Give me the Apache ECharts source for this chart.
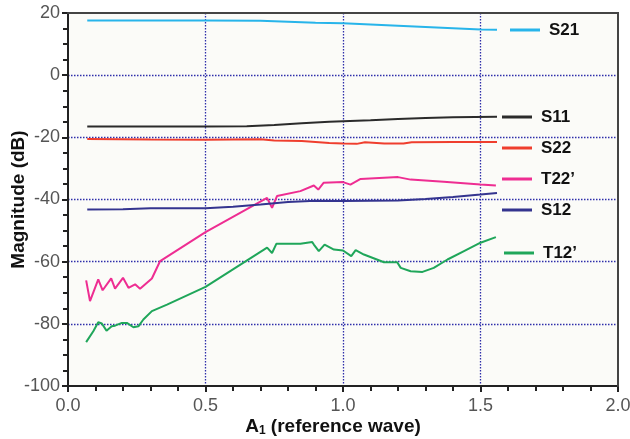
<!DOCTYPE html>
<html>
<head>
<meta charset="utf-8">
<script src="https://cdn.jsdelivr.net/npm/echarts@6/dist/echarts.min.js"></script>
<style>
  html, body { margin: 0; padding: 0; background: #ffffff; }
  #chart { width: 630px; height: 439px; }
</style>
</head>
<body>
<div id="chart"></div>
<script>
// Measured magnitudes (dB) against reference-wave amplitude A1, as [A1, dB] pairs
const s21 = [[0.07,17.6],[0.3,17.6],[0.5,17.6],[0.7,17.5],[0.8,17.2],[0.9,16.9],[1.0,16.7],[1.1,16.3],[1.2,15.9],[1.3,15.5],[1.4,15.1],[1.5,14.7],[1.56,14.6]];
const s11 = [[0.07,-16.5],[0.3,-16.5],[0.5,-16.5],[0.65,-16.4],[0.75,-16.0],[0.85,-15.5],[0.95,-15.0],[1.0,-14.8],[1.1,-14.5],[1.2,-14.1],[1.3,-13.8],[1.4,-13.5],[1.56,-13.4]];
const s22 = [[0.07,-20.5],[0.3,-20.7],[0.5,-20.8],[0.7,-20.6],[0.75,-21.0],[0.85,-21.2],[0.95,-21.8],[1.0,-22.0],[1.05,-22.1],[1.08,-21.6],[1.15,-22.0],[1.22,-22.0],[1.25,-21.6],[1.4,-21.5],[1.56,-21.5]];
const t22 = [[0.066,-66.0],[0.08,-72.7],[0.11,-65.7],[0.126,-69.2],[0.157,-65.4],[0.171,-68.7],[0.2,-65.2],[0.22,-68.4],[0.244,-67.3],[0.262,-68.7],[0.305,-65.4],[0.335,-59.8],[0.5,-50.5],[0.724,-39.5],[0.73,-38.9],[0.742,-42.7],[0.76,-38.9],[0.845,-37.3],[0.894,-35.5],[0.91,-36.8],[0.93,-34.6],[1.0,-34.4],[1.027,-35.2],[1.064,-33.4],[1.2,-32.8],[1.246,-33.6],[1.366,-34.3],[1.5,-35.2],[1.556,-35.5]];
const s12 = [[0.07,-43.2],[0.2,-43.1],[0.3,-42.8],[0.5,-42.8],[0.6,-42.3],[0.7,-41.6],[0.8,-40.8],[0.9,-40.4],[1.0,-40.5],[1.1,-40.4],[1.2,-40.3],[1.3,-39.8],[1.4,-39.2],[1.5,-38.4],[1.56,-37.9]];
const t12 = [[0.066,-85.9],[0.092,-82.4],[0.11,-79.5],[0.123,-79.9],[0.14,-82.2],[0.159,-80.8],[0.171,-80.6],[0.196,-79.7],[0.214,-79.7],[0.238,-81.1],[0.256,-80.8],[0.274,-78.6],[0.305,-75.9],[0.36,-73.8],[0.5,-68.1],[0.724,-55.5],[0.742,-57.2],[0.758,-54.2],[0.845,-54.2],[0.888,-53.7],[0.894,-54.5],[0.912,-56.6],[0.933,-54.5],[0.967,-56.1],[1.0,-56.4],[1.03,-58.2],[1.046,-56.3],[1.076,-57.7],[1.149,-60.2],[1.197,-60.2],[1.21,-62.0],[1.246,-63.1],[1.289,-63.3],[1.33,-62.0],[1.38,-59.3],[1.44,-56.6],[1.5,-53.9],[1.556,-52.1]];

const seriesNames = ['S21', 'S11', 'S22', 'T22\u2019', 'S12', 'T12\u2019'];
const seriesData = [s21, s11, s22, t22, s12, t12];
const seriesColors = ['#27b4ea', '#2b2b2b', '#ef3e2e', '#ee2d92', '#34348f', '#1fa65a'];

// Key entries sit beside the line ends: [left, vertical centre]
const keySpots = [[510, 30], [502, 117], [502, 148], [502, 179], [502, 210], [504, 253]];

const xTicks = { min: 0, max: 2, interval: 0.5 };
const yTicks = { min: -100, max: 20, interval: 20 };

const chart = echarts.init(document.getElementById('chart'), null, { renderer: 'canvas' });

const FONT = 'Liberation Sans, Arial, sans-serif';
const tickFont = { color: '#555555', fontSize: 18, fontFamily: FONT };
// Dotted grid inside the frame only; the frame edges stay solid
const gridLine = {
  show: true, showMinLine: false, showMaxLine: false,
  lineStyle: { color: '#2e2eaa', width: 1.3, type: [1.5, 1.5] }
};

// Bare axis that only draws a solid frame edge (top or right)
const frameEdge = (extra) => Object.assign({
  type: 'value',
  gridIndex: 0,
  show: true,
  z: 10,
  axisLine: { show: true, onZero: false, lineStyle: { color: '#444444', width: 2 } },
  axisTick: { show: false },
  minorTick: { show: false },
  axisLabel: { show: false },
  splitLine: { show: false }
}, extra);

chart.setOption({
  animation: false,
  backgroundColor: '#ffffff',
  grid: {
    left: 68, right: 12, top: 13, bottom: 53,
    containLabel: false,
    outerBoundsMode: 'none',
    show: true, backgroundColor: '#fbfbf8', borderColor: '#444444', borderWidth: 2
  },
  legend: seriesNames.map((name, i) => ({
    data: [name],
    left: keySpots[i][0],
    top: keySpots[i][1] - 9,
    padding: 0,
    selectedMode: false,
    icon: 'rect',
    itemWidth: 30,
    itemHeight: 3,
    textStyle: {
      color: '#111111', fontSize: 17, fontWeight: 'bold', lineHeight: 18,
      fontFamily: FONT, padding: [0, 0, 0, 4]
    }
  })),
  xAxis: [{
    type: 'value',
    min: xTicks.min, max: xTicks.max, interval: xTicks.interval,
    name: '{a|A}{s|1}{a| (reference wave)}',
    nameLocation: 'middle',
    nameGap: 31,
    nameMoveOverlap: false,
    nameTextStyle: {
      padding: [0, 20, 0, 0],
      rich: {
        a: { fontSize: 19, fontWeight: 'bold', color: '#111111', fontFamily: FONT },
        s: { fontSize: 12, fontWeight: 'bold', color: '#111111', fontFamily: FONT, padding: [8, 0, 0, 0] }
      }
    },
    axisLine: { show: true, onZero: false, lineStyle: { color: '#222222', width: 2 } },
    axisTick: { show: true, inside: false, length: 6, lineStyle: { color: '#222222', width: 2 } },
    minorTick: { show: true, splitNumber: 5, length: 5, lineStyle: { color: '#222222', width: 2 } },
    axisLabel: Object.assign({ margin: 11, formatter: v => v.toFixed(1) }, tickFont),
    splitLine: gridLine
  }, frameEdge({ position: 'top', min: xTicks.min, max: xTicks.max, interval: xTicks.interval })],
  yAxis: [{
    type: 'value',
    min: yTicks.min, max: yTicks.max, interval: yTicks.interval,
    name: 'Magnitude (dB)',
    nameLocation: 'middle',
    nameRotate: 90,
    nameGap: 40,
    nameMoveOverlap: false,
    nameTextStyle: { fontSize: 19, fontWeight: 'bold', color: '#111111', fontFamily: FONT },
    axisLine: { show: true, onZero: false, lineStyle: { color: '#222222', width: 2 } },
    axisTick: { show: true, inside: false, length: 6, lineStyle: { color: '#222222', width: 2 } },
    minorTick: { show: true, splitNumber: 4, length: 5, lineStyle: { color: '#222222', width: 2 } },
    axisLabel: Object.assign({ margin: 8 }, tickFont),
    splitLine: gridLine
  }, frameEdge({ position: 'right', min: yTicks.min, max: yTicks.max, interval: yTicks.interval })],
  series: seriesNames.map((name, i) => ({
    name: name,
    type: 'line',
    xAxisIndex: 0,
    yAxisIndex: 0,
    data: seriesData[i],
    showSymbol: false,
    symbol: 'none',
    color: seriesColors[i],
    lineStyle: { color: seriesColors[i], width: 2 }
  }))
});

// Solid top and right edges of the plot frame, placed through the axis scales
const topRight = chart.convertToPixel({ xAxisIndex: 0, yAxisIndex: 0 }, [xTicks.max, yTicks.max]);
const bottomLeft = chart.convertToPixel({ xAxisIndex: 0, yAxisIndex: 0 }, [xTicks.min, yTicks.min]);
if (topRight && bottomLeft) {
  chart.setOption({
    graphic: [{
      type: 'polyline',
      z: 100,
      silent: true,
      shape: { points: [[bottomLeft[0], topRight[1]], [topRight[0], topRight[1]], [topRight[0], bottomLeft[1]]] },
      style: { stroke: '#444444', lineWidth: 2, fill: 'none' }
    }]
  });
}
</script>
</body>
</html>
